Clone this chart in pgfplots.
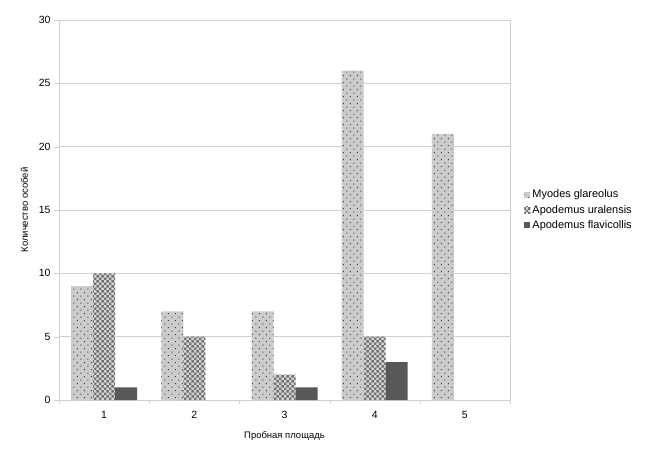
\documentclass[border=0pt]{standalone}
\usepackage{fontspec}
\setmainfont{Liberation Sans}
\usepackage{pgfplots}
\pgfplotsset{compat=1.18}
\usetikzlibrary{patterns.meta,calc}
\tikzdeclarepattern{name=sparsedots, bounding box={(0,0) and (7pt,7pt)}, tile size={(7pt,7pt)},
  code={\fill (1pt,1pt) rectangle (2pt,2pt); \fill (4.5pt,4.5pt) rectangle (5.5pt,5.5pt);}}
\tikzdeclarepattern{name=checker, bounding box={(0,0) and (5pt,5pt)}, tile size={(5pt,5pt)},
  code={\fill (0pt,0pt) rectangle (2.5pt,2.5pt); \fill (2.5pt,2.5pt) rectangle (5pt,5pt);}}
\definecolor{gridc}{HTML}{D0D0D0}
\definecolor{myo}{HTML}{CBCBCB}
\definecolor{ural}{HTML}{D4D4D4}
\definecolor{uraldark}{HTML}{727272}
\definecolor{flav}{HTML}{585858}
\begin{document}
\begin{tikzpicture}[x=1bp,y=1bp]
\begin{axis}[name=ax,
  scale only axis, width=451bp, height=380bp,
  ybar=0pt, bar width=22bp,
  xmin=0.5, xmax=5.5, ymin=0, ymax=30,
  xtick={1,2,3,4,5},
  minor xtick={0.5,1.5,2.5,3.5,4.5,5.5},
  ytick={0,5,10,15,20,25,30},
  major x tick style={draw=none},
  minor x tick style={gridc},
  minor tick length=4bp,
  major tick length=5bp,
  y tick style={gridc},
  tick align=outside,
  tick pos=left,
  axis line style={gridc},
  ymajorgrids, grid style={gridc},
  /pgf/number format/assume math mode=true,
  tick label style={font=\fontsize{10.5}{12}\selectfont},
  xticklabel style={yshift=-3bp},
  xlabel={Пробная площадь},
  ylabel={Количество особей},
  label style={font=\fontsize{9.5}{11}\selectfont},
  xlabel style={yshift=-6bp},
  ylabel style={yshift=4bp},
  legend style={at={(1.025,0.5)}, anchor=west, draw=none, fill=none,
    font=\fontsize{11}{12}\selectfont, row sep=2bp,
    legend cell align=left},
  legend image code/.code={\draw[#1,draw=none] (0bp,-3bp) rectangle (6bp,3bp);},
]
\addplot[fill=myo, draw=none, postaction={pattern={sparsedots}, pattern color=black!75}]
  coordinates {(1,9) (2,7) (3,7) (4,26) (5,21)};
\addplot[fill=ural, draw=none, postaction={pattern={checker}, pattern color=uraldark}]
  coordinates {(1,10) (2,5) (3,2) (4,5)};
\addplot[fill=flav, draw=none]
  coordinates {(1,1) (3,1) (4,3)};
\legend{Myodes glareolus, Apodemus uralensis, Apodemus flavicollis}
\end{axis}
\path ($(ax.south west)+(-59bp,-54bp)$) rectangle ($(ax.north east)+(150bp,20bp)$);
\end{tikzpicture}
\end{document}
